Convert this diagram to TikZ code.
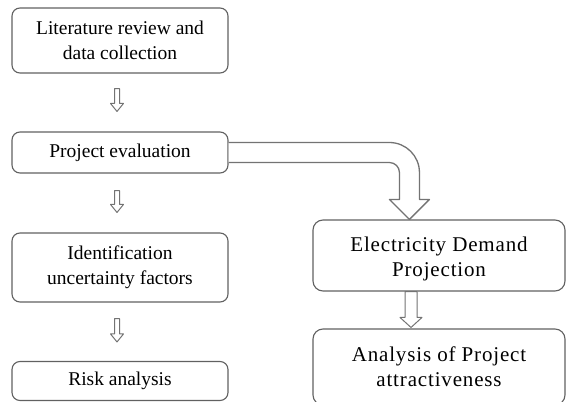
\documentclass[tikz,border=0pt]{standalone}
\usepackage{fontspec}
\setmainfont{Liberation Serif}
\newfontfamily\wideserif[LetterSpace=4]{Liberation Serif}
\usetikzlibrary{calc}
\tikzset{
    box/.style={draw=black!62, line width=1.1pt, rounded corners=8pt, fill=white,
        align=center, inner sep=0pt, font=\fontsize{19.5}{25}\selectfont},
    widebox/.style={box, rounded corners=10pt,
        font=\wideserif\fontsize{21}{25}\selectfont},
    hollow/.style={draw=black!55, line width=1pt, fill=white, line join=round},
}
% #1 top, #2 tip, #3 half shaft, #4 half head, #5 head length
\newcommand\HollowDown[5]{%
    \draw[hollow] ($(#1)+(-#3,0)$) -- ($(#1)+(#3,0)$) -- ($(#2)+(#3,#5)$) -- ($(#2)+(#4,#5)$)
        -- (#2) -- ($(#2)+(-#4,#5)$) -- ($(#2)+(-#3,#5)$) -- cycle;
}

\begin{document}
\begin{tikzpicture}[x=1pt,y=1pt]
    \useasboundingbox (0,0) rectangle (566,-402);
    % left column
    \node[box, minimum width=216, minimum height=65] (lit) at (120,-40.5) {Literature review and\\data collection};
    \node[box, minimum width=216, minimum height=41] (prj) at (120,-152.5) {Project evaluation};
    \node[box, minimum width=216, minimum height=69] (idf) at (120,-267.5) {Identification\\uncertainty factors};
    \node[box, minimum width=216, minimum height=39] (rsk) at (120,-381) {Risk analysis};
    % right column
    \node[widebox, text height=47pt, minimum width=252, minimum height=71] (edp) at (439,-255.5) {Electricity Demand\\Projection};
    \node[widebox, minimum width=252, minimum height=76] (apa) at (439,-367) {Analysis of Project\\attractiveness};
    % small arrows
    \coordinate (a1) at ($(lit.south)+(-3,-15)$);
    \coordinate (b1) at ($(prj.north)+(-3,20)$);
    \coordinate (a2) at ($(prj.south)+(-3,-17)$);
    \coordinate (b2) at ($(idf.north)+(-3,20)$);
    \coordinate (a3) at ($(idf.south)+(-3,-16)$);
    \coordinate (b3) at ($(rsk.north)+(-3,19)$);
    \HollowDown{a1}{b1}{2.5}{6.5}{8}
    \HollowDown{a2}{b2}{2.5}{6.5}{8}
    \HollowDown{a3}{b3}{2.5}{6.5}{8}
    \coordinate (a4) at ($(edp.south)+(-28,0)$);
    \coordinate (b4) at ($(apa.north)+(-28,1)$);
    \HollowDown{a4}{b4}{6}{11}{10}
    % bent arrow
    \coordinate (bendtip) at ($(edp.north west)+(97,0)$);
    \draw[hollow, line width=1.3pt] ($(prj.east)+(0,10)$) -- ($(bendtip|-prj.east)+(-20,10)$)
        arc[start angle=90, end angle=0, radius=30] -- ($(bendtip)+(10,20)$) -- ($(bendtip)+(20,20)$)
        -- (bendtip) -- ($(bendtip)+(-20,20)$) -- ($(bendtip)+(-10,20)$)
        -- ($(bendtip|-prj.east)+(-10,-20)$) arc[start angle=0, end angle=90, radius=10]
        -- ($(prj.east)+(0,-10)$);
\end{tikzpicture}
\end{document}
